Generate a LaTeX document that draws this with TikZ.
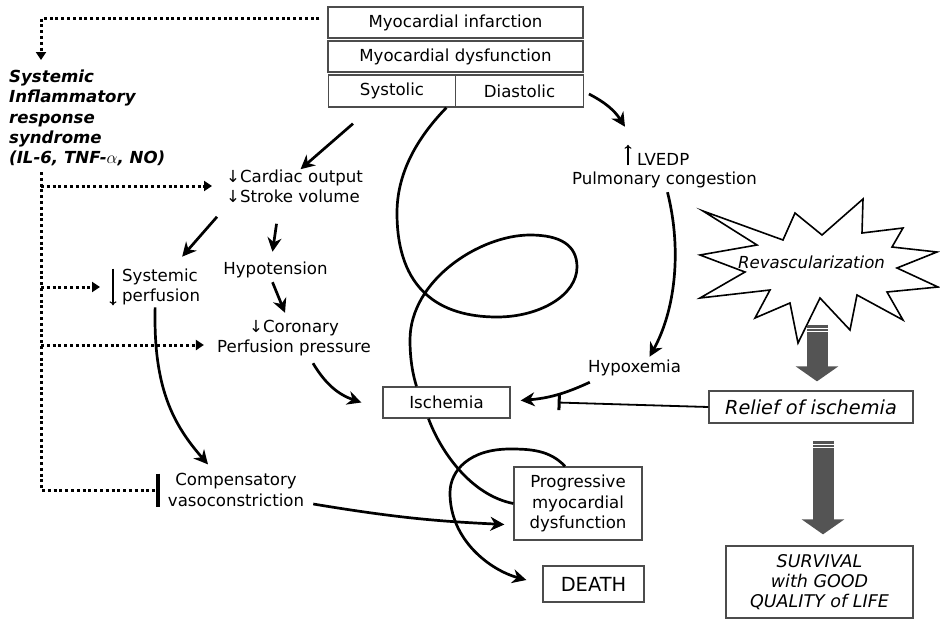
\documentclass[tikz,border=0pt]{standalone}
\usepackage{fontspec}
\setmainfont{DejaVu Sans}
\usepackage{tikz}
\usetikzlibrary{arrows.meta}
\tikzset{box/.style = {draw=black!70, line width=1.3pt, inner sep=0, align=center}}
\tikzset{txt/.style = {inner sep=0, align=center}}
\tikzset{arr/.style = {line width=2.7pt, -{Stealth[length=14pt, width=14pt, inset=4.5pt]}}}
\tikzset{curl/.style = {line width=2.7pt}}
\tikzset{thinarr/.style = {line width=1.1pt, -{To[length=4pt, width=7pt]}}}
\tikzset{dots/.style = {line width=3pt, dash pattern=on 3pt off 2.8pt}}
\tikzset{dotarr/.style = {dots, -{Triangle[length=8pt, width=10pt]}}}
\tikzset{fat/.style = {line width=21pt, draw=black!67, -{Triangle[length=15pt, width=42pt]}}}
\tikzset{stripe/.style = {draw=white, line width=0.9pt}}

\begin{document}
\begin{tikzpicture}[x=1pt, y=-1pt, font=\fontsize{16.6}{20.3}\selectfont]
  \useasboundingbox (0,0) rectangle (940,619);
  % top boxes
  \node [box, minimum width=255pt, minimum height=31pt] (mi) at (455.5,22.5) {Myocardial infarction};
  \node [box, minimum width=255pt, minimum height=31pt] (md) at (455.5,56.5) {Myocardial dysfunction};
  \node [box, minimum width=127.5pt, minimum height=32pt] (sys) at (392,91) {Systolic};
  \node [box, minimum width=127.5pt, minimum height=32pt] (dia) at (519.5,91) {Diastolic};
  % left column
  \node [txt, align=left, anchor=west, font=\fontsize{16.6}{20.3}\selectfont\bfseries\itshape] (sirs) at (9,118)
        {Systemic\\Inflammatory\\response\\syndrome\\(IL-6, TNF-$\alpha$, NO)};
  \node [txt, align=left, anchor=west] (co) at (226,186) {↓Cardiac output\\↓Stroke volume};
  \node [txt, align=left, anchor=west] (sp) at (122,287) {Systemic\\perfusion};
  \node [txt] (hyp) at (275.5,270) {Hypotension};
  \node [txt] (cpp) at (294,338) {↓Coronary\\Perfusion pressure};
  \node [txt] (cv) at (236,490) {Compensatory\\vasoconstriction};
  \node [box, minimum width=127pt, minimum height=31pt] (isc) at (446.5,402.5) {Ischemia};
  \node [box, minimum width=128pt, minimum height=73pt] (pmd) at (578,503.5) {Progressive\\myocardial\\dysfunction};
  \node [box, minimum width=101pt, minimum height=36pt, font=\fontsize{19.4}{23}\selectfont] (death) at (593.5,584) {DEATH};
  % right column
  \node [txt, anchor=west] (lv) at (637,159) {LVEDP};
  \node [txt] (pc) at (664.5,180) {Pulmonary congestion};
  \node [txt] (hx) at (634.5,368) {Hypoxemia};
  \draw [line width=1.6pt, fill=white] (703,211) -- (783,240) -- (795,213) -- (822,235) -- (863,199) -- (862,233)
        -- (903,228) -- (892,247) -- (937,252) -- (897,268) -- (938,287) -- (887,292) -- (903,320) -- (857,295)
        -- (850,330) -- (820,298) -- (798,343) -- (790,303) -- (755,318) -- (770,290) -- (700,298) -- (745,272)
        -- (700,255) -- (757,245) -- cycle;
  \node [txt, font=\fontsize{16.6}{20.3}\selectfont\itshape] (rev) at (811.5,262) {Revascularization};
  \node [box, minimum width=204pt, minimum height=32pt, font=\fontsize{19.3}{23}\selectfont\itshape] (relief) at (811,407) {Relief of ischemia};
  \node [box, minimum width=187pt, minimum height=72pt, font=\fontsize{17.5}{20.3}\selectfont\itshape] (surv) at (819.5,582) {SURVIVAL\\with GOOD\\QUALITY of LIFE};

  % dotted feedback
  \coordinate (bus) at (41,172);
  \coordinate (sirs top) at (41,60);
  \coordinate (cpp in) at ([yshift=-7pt]cpp.west);
  \draw [dotarr] ([xshift=-8pt, yshift=4pt]mi.west) -| (sirs top);
  \draw [dots, -{Bar[width=33pt, line width=3.5pt]}, shorten >=8pt] (bus) |- (cv.west);
  \draw [dotarr, shorten >=14pt] (bus |- co.west) -- (co.west);
  \draw [dotarr, shorten >=22pt] (bus |- sp.west) -- (sp.west);
  \draw [dotarr, shorten >=13pt] (bus |- cpp in) -- (cpp in);

  % arrows
  \draw [thinarr] ([xshift=-9pt]sp.north west) -- ([xshift=-9pt]sp.south west);
  \draw [thinarr] ([xshift=-9pt]lv.south west) -- ([xshift=-9pt, yshift=8pt]lv.north west);
  \draw [arr] ([xshift=-39pt, yshift=-16pt]sys.south) -- ([xshift=6pt]co.north);
  \draw [arr] ([xshift=5pt, yshift=-3pt]dia.east) to [bend left=15] ([xshift=-12pt, yshift=26pt]lv.north west);
  \draw [arr] ([xshift=-9pt, yshift=-14pt]co.south west) -- ([xshift=21pt, yshift=12pt]sp.north);
  \draw [arr] ([xshift=-18pt, yshift=-21pt]co.south) -- ([xshift=-3pt, yshift=10pt]hyp.north);
  \draw [arr] ([xshift=-3pt, yshift=-4pt]hyp.south) -- ([xshift=-9pt, yshift=7pt]cpp.north);
  \draw [arr] ([xshift=19pt, yshift=-7pt]cpp.south) to [bend right=20] ([xshift=-21pt]isc.west);
  \draw [arr] ([xshift=-6pt, yshift=-2pt]sp.south) .. controls +(-2,80) and +(-35,-40) .. ([xshift=-28pt, yshift=9pt]cv.north);
  \draw [arr] ([xshift=9pt, yshift=-14pt]cv.east) .. controls +(90,15) and +(-60,-3) .. ([xshift=-9pt, yshift=-21pt]pmd.west);
  \draw [arr] ([xshift=3pt, yshift=-4pt]pc.south) .. controls +(15,60) and +(25,-45) .. ([xshift=15pt, yshift=3pt]hx.north);
  \draw [arr] ([xshift=2pt, yshift=-6pt]hx.south west) to [bend left=10] ([xshift=10pt, yshift=2pt]isc.east);
  \draw [line width=1.8pt, -{Bar[width=15pt, line width=3pt]}] (relief.west) -- ([xshift=47pt]isc.east);

  % vicious spiral
  \draw [curl] ([xshift=-10pt]sys.south east) .. controls (415,140) and (397,175) .. (397,213)
        .. controls (397,290) and (440,317) .. (497,317) .. controls (540,317) and (577,295) .. (577,267)
        .. controls (577,245) and (560,235) .. (530,235) .. controls (480,235) and (410,280) .. (410,340)
        .. controls (410,360) and (413,375) .. ([xshift=-30pt]isc.north);
  \draw [curl] ([xshift=-18pt]isc.south) .. controls (440,450) and (470,495) .. (pmd.west);
  \draw [arr] ([xshift=-13pt]pmd.north) .. controls (550,450) and (530,449) .. (510,449)
        .. controls (470,449) and (450,470) .. (450,493)
        .. controls (450,540) and (490,570) .. ([xshift=-16pt, yshift=4pt]death.west);

  % big arrows
  \coordinate (f1) at ([xshift=5.5pt, yshift=-56pt]rev.south);
  \coordinate (f2) at ([xshift=12pt, yshift=-17pt]relief.south);
  \draw [fat] (f1) -- ([xshift=6pt, yshift=9pt]relief.north);
  \draw [fat] (f2) -- ([xshift=3.5pt, yshift=11pt]surv.north);
  \foreach \d in {3.5,7} {
    \draw [stripe] ([xshift=-11pt, yshift=-\d pt]f1) -- ([xshift=11pt, yshift=-\d pt]f1);
    \draw [stripe] ([xshift=-11pt, yshift=-\d pt]f2) -- ([xshift=11pt, yshift=-\d pt]f2);
  }
\end{tikzpicture}
\end{document}
